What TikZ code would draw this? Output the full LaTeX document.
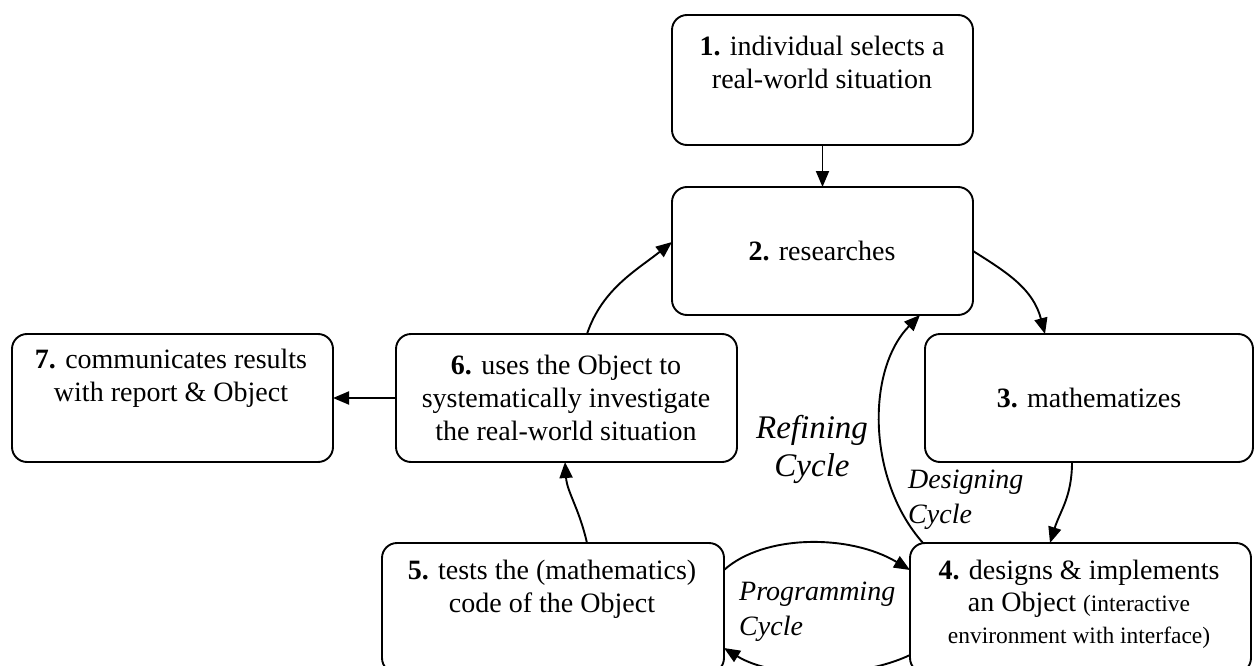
\documentclass[tikz,border=0pt]{standalone}
\usepackage{fontspec}
\setmainfont{Liberation Serif}
\usetikzlibrary{arrows.meta,calc}
\begin{document}
\begin{tikzpicture}[x=1pt,y=-1pt,
  box/.style={draw, line width=1.9pt, rounded corners=15pt, inner sep=0pt, outer sep=0pt},
  txt/.style={align=center, inner sep=0pt, font=\fontsize{28}{33}\selectfont},
  cyc/.style={align=left, inner sep=0pt, font=\fontsize{28}{35}\selectfont\itshape},
  conn/.style={line width=1.9pt, -{Triangle[length=16pt,width=13pt]}}]
\path[use as bounding box] (0,0) rectangle (1255,666);
\clip (0,0) rectangle (1255,666);
% boxes
\node[box, minimum width=301pt, minimum height=130pt] (b1) at (822.5,80) {};
\node[box, minimum width=301pt, minimum height=128pt] (b2) at (822.5,251) {};
\node[box, minimum width=328pt, minimum height=128pt] (b3) at (1089,398) {};
\node[box, minimum width=341pt, minimum height=130pt] (b4) at (1080.5,608) {};
\node[box, minimum width=342pt, minimum height=130pt] (b5) at (553,608) {};
\node[box, minimum width=341pt, minimum height=128pt] (b6) at (566.5,398) {};
\node[box, minimum width=321pt, minimum height=128pt] (b7) at (172.5,398) {};
% texts
\node[txt] (t1) at (822,62) {\textbf{1.} individual selects a\\real-world situation};
\node[txt] (t2) at (822,251) {\textbf{2.} researches};
\node[txt] (t3) at (1089,398) {\textbf{3.} mathematizes};
\node[txt, font=\fontsize{28}{32}\selectfont] (t4) at (1079,604) {\textbf{4.} designs \& implements\\an Object {\fontsize{23.5}{28}\selectfont(interactive}\\{\fontsize{23.5}{28}\selectfont environment with interface)}};
\node[txt] (t5) at (552,589) {\textbf{5.} tests the (mathematics)\\code of the Object};
\node[txt] (t6) at (566,398) {\textbf{6.} uses the Object to\\systematically investigate\\the real-world situation};
\node[txt] (t7) at (171,378) {\textbf{7.} communicates results\\with report \& Object};
% cycle labels
\node[cyc, align=center, font=\fontsize{33}{38}\selectfont\itshape] (lr) at (812,449) {Refining\\Cycle};
\node[cyc, anchor=west] (ld) at (908,500) {Designing\\Cycle};
\node[cyc, anchor=west] (lp) at (739,612) {Programming\\Cycle};
% connectors
\draw[conn] (b1.south) -- (b2.north);
\draw[conn] (b2.east) .. controls +(35,22) and +(-12,-45) .. ($(b3.north west)+(120,0)$);
\draw[conn] ($(b3.south west)+(147,0)$) .. controls +(0,35) and +(10,-32) .. ($(b4.north west)+(140,0)$);
\draw[conn] ($(b4.north west)+(13,0)$) .. controls +(-56,-63) and +(-54,55) .. ($(b2.south west)+(248,0)$);
\draw[conn] ($(b5.north east)+(0,27)$) .. controls +(40,-36) and +(-60,-36) .. ($(b4.north west)+(0,27)$);
\draw[conn] ($(b4.north west)+(0,112)$) .. controls +(-50,24) and +(50,31) .. ($(b5.north east)+(0,105)$);
\draw[conn] ($(b5.north west)+(205,0)$) .. controls +(-8,-35) and +(2,30) .. ($(b6.south west)+(169,0)$);
\draw[conn] ($(b6.north west)+(191,0)$) .. controls +(15,-45) and +(-35,28) .. ($(b2.north west)+(0,55)$);
\draw[conn] (b6.west) -- (b7.east);
\end{tikzpicture}
\end{document}
